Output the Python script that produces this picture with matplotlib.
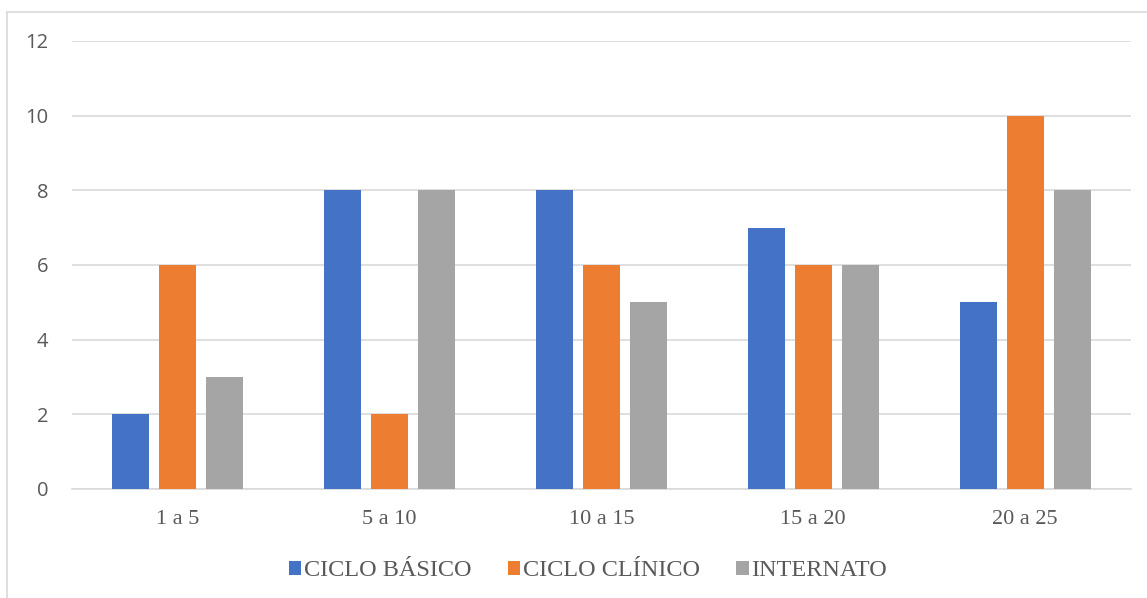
import matplotlib
matplotlib.use("Agg")
import matplotlib.pyplot as plt
import numpy as np
from matplotlib.lines import Line2D

categories = ["1 a 5", "5 a 10", "10 a 15", "15 a 20", "20 a 25"]
series_names = ["CICLO BÁSICO", "CICLO CLÍNICO", "INTERNATO"]
basico = [2, 8, 8, 7, 5]
clinico = [6, 2, 6, 6, 10]
internato = [3, 8, 5, 6, 8]
y_ticks = [0, 2, 4, 6, 8, 10, 12]

colors = ["#4472C4", "#ED7D31", "#A5A5A5"]

W, H = 1147, 598
fig = plt.figure(figsize=(W / 100, H / 100), dpi=100)
ax = fig.add_axes([72 / W, 1 - 489 / H, (1131 - 72) / W, (489 - 41) / H])

x = np.arange(len(categories))
width = 0.175
offset = 0.222
for i, (vals, c, name) in enumerate(zip([basico, clinico, internato], colors, series_names)):
    ax.bar(x + (i - 1) * offset, vals, width=width, color=c, label=name, zorder=3)

ax.set_xlim(-0.5, len(categories) - 0.5)
ax.set_ylim(0, 12)
ax.set_yticks(y_ticks)
ax.set_yticklabels([str(v) for v in y_ticks], fontfamily="Open Sans", fontsize=14.5, color="#595959")
ax.set_xticks(x)
ax.set_xticklabels(categories, fontfamily="Liberation Serif", fontsize=16, color="#595959")
ax.grid(axis="y", color="#D9D9D9", linewidth=1.2, zorder=0)
for s in ["top", "right", "left"]:
    ax.spines[s].set_visible(False)
ax.spines["bottom"].set_color("#D9D9D9")
ax.spines["bottom"].set_linewidth(1.2)
ax.tick_params(axis="both", length=0)
ax.tick_params(axis="y", pad=17)
ax.tick_params(axis="x", pad=15)

leg = fig.legend(loc="center", bbox_to_anchor=(588 / W, 1 - 571 / H), ncol=3, frameon=False,
                 prop={"family": "Liberation Serif", "size": 17.5},
                 handlelength=0.5, handleheight=0.5, handletextpad=0.12, columnspacing=1.5)
for t in leg.get_texts():
    t.set_color("#595959")

# outer chart border (top and left visible)
fig.add_artist(Line2D([7 / W, 1], [1 - 12 / H, 1 - 12 / H], color="#D9D9D9", linewidth=1.2))
fig.add_artist(Line2D([7 / W, 7 / W], [0, 1 - 12 / H], color="#D9D9D9", linewidth=1.2))

fig.savefig("out.png", dpi=100)
